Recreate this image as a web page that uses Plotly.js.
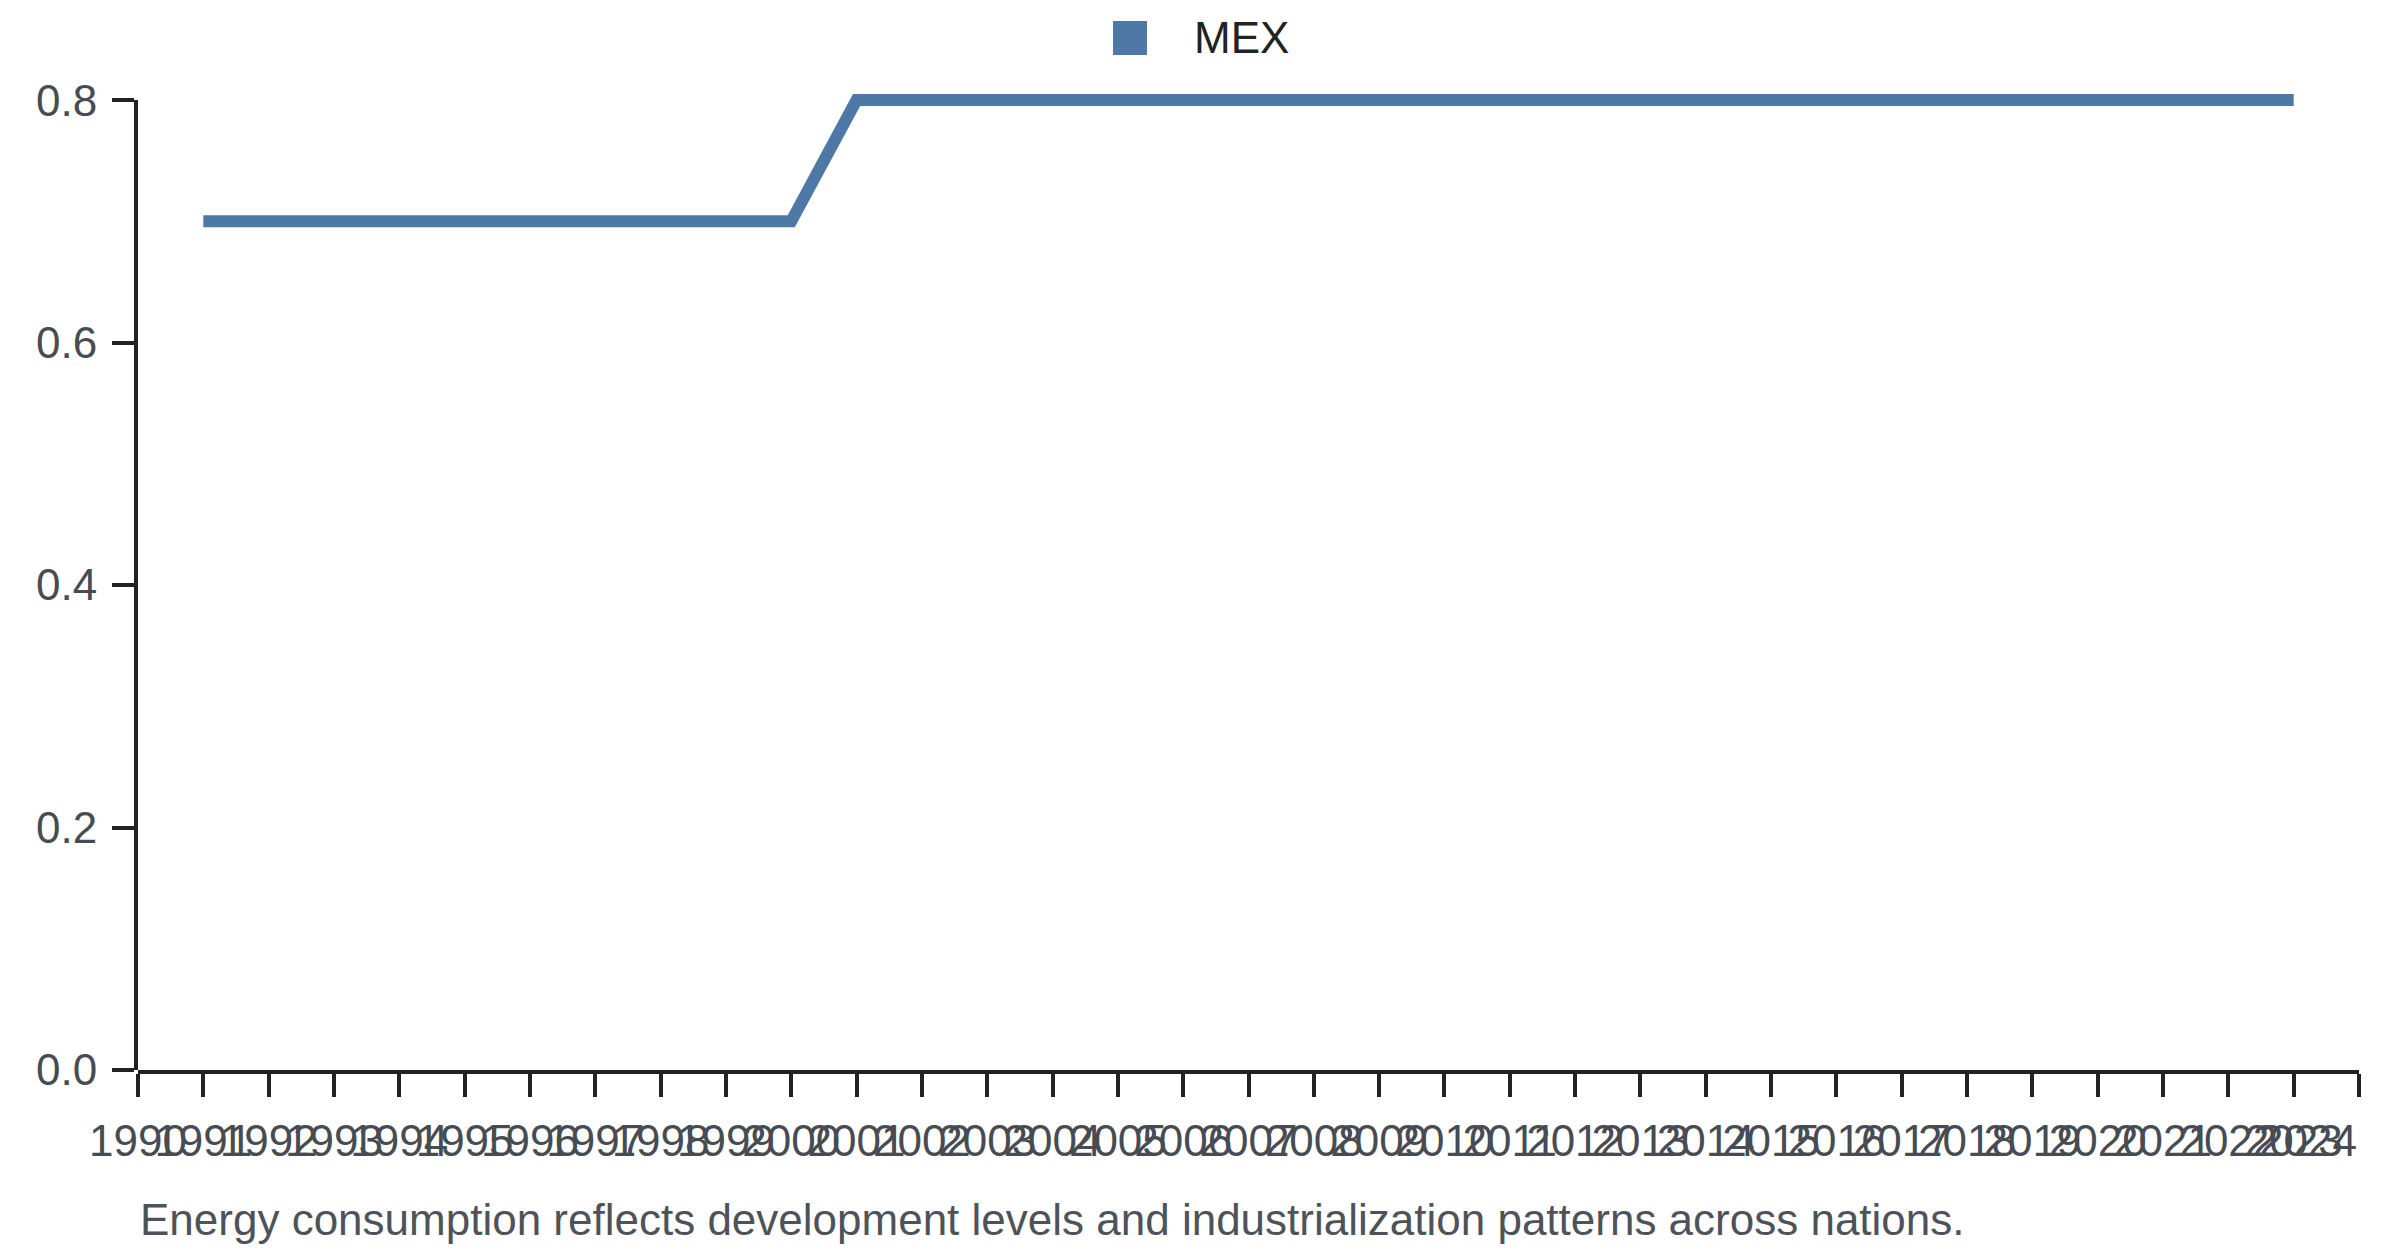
<!DOCTYPE html>
<html>
<head>
<meta charset="utf-8">
<script src="https://cdn.plot.ly/plotly-3.0.1.min.js"></script>
<style>
  html, body { margin: 0; padding: 0; background: #fff; }
  #chart { width: 2400px; height: 1256px; }
</style>
</head>
<body>
<div id="chart"></div>
<script>
// years on the axis and the series
var tickYears = [];
for (var y = 1990; y <= 2024; y++) tickYears.push(y);

var years = [1991, 1992, 1993, 1994, 1995, 1996, 1997, 1998, 1999, 2000,
             2001, 2002, 2003, 2004, 2005, 2006, 2007, 2008, 2009, 2010,
             2011, 2012, 2013, 2014, 2015, 2016, 2017, 2018, 2019, 2020,
             2021, 2022, 2023];
var mex = [0.7, 0.7, 0.7, 0.7, 0.7, 0.7, 0.7, 0.7, 0.7, 0.7,
           0.8, 0.8, 0.8, 0.8, 0.8, 0.8, 0.8, 0.8, 0.8, 0.8,
           0.8, 0.8, 0.8, 0.8, 0.8, 0.8, 0.8, 0.8, 0.8, 0.8,
           0.8, 0.8, 0.8];
var yTicks = [0, 0.2, 0.4, 0.6, 0.8];
var seriesName = 'MEX';
var note = 'Energy consumption reflects development levels and industrialization patterns across nations.';

var blue = '#4e79a7';
var labelGrey = '#474c52';
var yMax = 0.8;
var yRoom = 0.81; // a little headroom so the line at 0.8 is not clipped

// the last year label is drawn separately, pushed inward so it stays on the page
var lastYear = tickYears[tickYears.length - 1];
var xLabels = tickYears.map(String);
xLabels[xLabels.length - 1] = '';

var data = [{
    type: 'scatter',
    mode: 'lines',
    x: years,
    y: mex,
    name: seriesName,
    line: { color: blue, width: 12 },
    showlegend: false
}, {
    // empty trace so the visible y axis gets drawn
    type: 'scatter',
    mode: 'lines',
    x: [],
    y: [],
    yaxis: 'y2',
    showlegend: false,
    hoverinfo: 'skip'
}];

var axisCommon = {
    showgrid: false,
    zeroline: false,
    showline: true,
    linecolor: '#222',
    linewidth: 4,
    ticks: 'outside',
    tickwidth: 4,
    tickcolor: '#222',
    tickfont: { size: 44, color: labelGrey }
};

var layout = {
    width: 2400,
    height: 1256,
    margin: { l: 138, r: 41, t: 88, b: 186 },
    paper_bgcolor: '#fff',
    plot_bgcolor: 'rgba(0,0,0,0)',
    font: { family: 'Liberation Sans, Arial, sans-serif', size: 44, color: '#444' },
    showlegend: false,
    xaxis: Object.assign({}, axisCommon, {
        range: [1990, 2024],
        anchor: 'y',
        tickvals: tickYears,
        ticktext: xLabels,
        tickangle: 0,
        ticklen: 23,
        ticklabelstandoff: 6
    }),
    // the axis the line is drawn on, hidden
    yaxis: {
        range: [0, yRoom],
        showgrid: false,
        zeroline: false,
        showline: false,
        showticklabels: false,
        ticks: ''
    },
    // the visible y axis, ending exactly at 0.8
    yaxis2: Object.assign({}, axisCommon, {
        range: [0, yMax],
        domain: [0, yMax / yRoom],
        anchor: 'x',
        side: 'left',
        tickvals: yTicks,
        ticktext: yTicks.map(function (v) { return v.toFixed(1); }),
        ticklen: 22,
        ticklabelstandoff: 6
    }),
    // legend swatch drawn by hand so it can be a large square
    shapes: [{
        type: 'rect',
        xref: 'paper', yref: 'paper',
        x0: 0.439, x1: 0.4543,
        y0: 1.0336, y1: 1.0682,
        fillcolor: blue,
        line: { width: 0 }
    }],
    annotations: [{
        text: seriesName,
        xref: 'paper', yref: 'paper',
        x: 0.4745, y: 1.051,
        xanchor: 'left', yanchor: 'middle',
        showarrow: false,
        font: { size: 44, color: '#222' }
    }, {
        text: String(lastYear),
        xref: 'x', yref: 'paper',
        x: lastYear, y: -0.072,
        xanchor: 'right', yanchor: 'middle',
        showarrow: false,
        font: { size: 44, color: labelGrey }
    }, {
        text: note,
        xref: 'paper', yref: 'paper',
        x: 0.0, y: -0.1527,
        xanchor: 'left', yanchor: 'middle',
        showarrow: false,
        font: { size: 44, color: '#4d5359' }
    }]
};

Plotly.newPlot('chart', data, layout, { displayModeBar: false, staticPlot: true });
</script>
</body>
</html>
